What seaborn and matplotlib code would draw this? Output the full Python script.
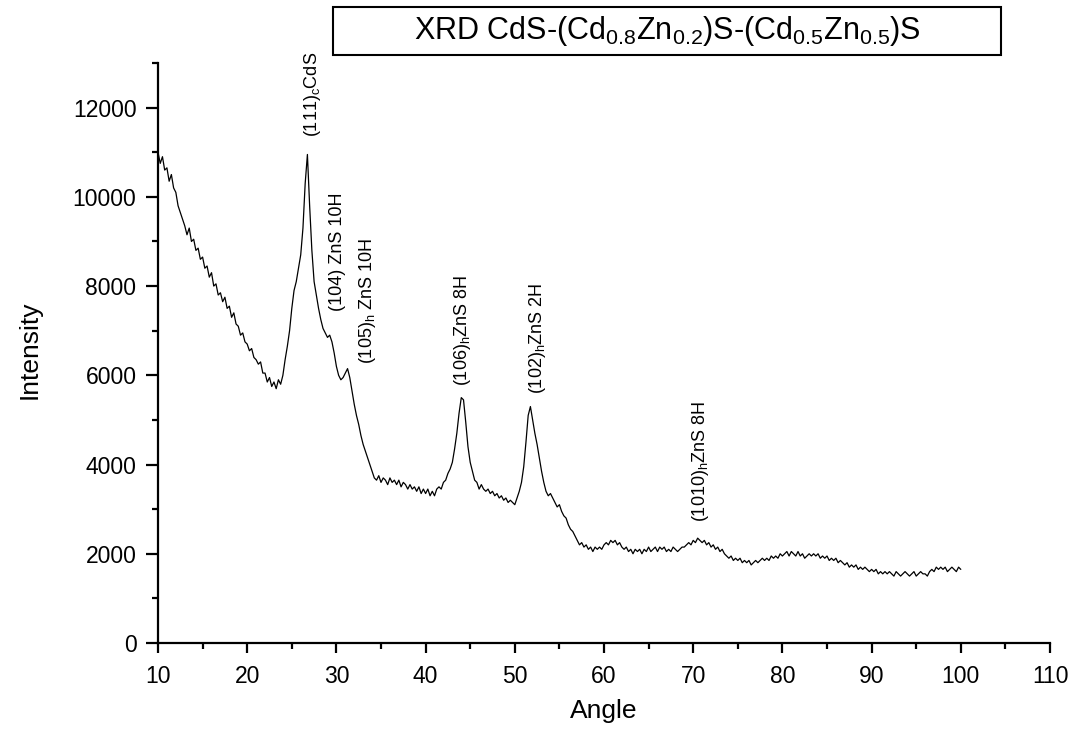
import numpy as np
import pandas as pd
import matplotlib
matplotlib.use("Agg")
import matplotlib.pyplot as plt
from matplotlib.patches import Rectangle
from matplotlib.ticker import MultipleLocator
import seaborn as sns

# XRD scan, 2-theta from 10 to 100 deg sampled every 0.25 deg (one row per degree)
angle_start = 10.0
angle_step = 0.25
intensity = [
    11000, 10750, 10900, 10600,
    10650, 10350, 10500, 10200,
    10100, 9800, 9650, 9500,
    9350, 9150, 9300, 9000,
    9050, 8800, 8850, 8600,
    8650, 8400, 8450, 8200,
    8300, 8000, 8050, 7800,
    7850, 7650, 7750, 7500,
    7550, 7300, 7400, 7150,
    7100, 6900, 6950, 6750,
    6700, 6550, 6600, 6400,
    6350, 6250, 6300, 6050,
    6050, 5850, 5950, 5750,
    5850, 5700, 5900, 5800,
    6000, 6350, 6650, 7000,
    7500, 7900, 8100, 8400,
    8700, 9300, 10300, 10950,
    9800, 8800, 8100, 7800,
    7500, 7250, 7050, 6950,
    6850, 6900, 6750, 6500,
    6200, 6000, 5900, 5950,
    6050, 6150, 5950, 5650,
    5350, 5100, 4900, 4650,
    4450, 4300, 4150, 4000,
    3850, 3700, 3650, 3750,
    3600, 3700, 3650, 3550,
    3700, 3600, 3650, 3550,
    3650, 3500, 3600, 3550,
    3450, 3550, 3450, 3500,
    3400, 3500, 3350, 3450,
    3350, 3450, 3300, 3400,
    3300, 3450, 3500, 3450,
    3600, 3650, 3800, 3900,
    4050, 4350, 4700, 5150,
    5500, 5450, 4950, 4400,
    4050, 3850, 3650, 3600,
    3450, 3550, 3450, 3400,
    3450, 3350, 3400, 3300,
    3350, 3250, 3300, 3200,
    3250, 3150, 3200, 3150,
    3100, 3250, 3400, 3600,
    3950, 4500, 5100, 5300,
    5000, 4700, 4450, 4150,
    3850, 3600, 3400, 3300,
    3350, 3250, 3150, 3050,
    3100, 2950, 2850, 2800,
    2650, 2550, 2500, 2400,
    2300, 2200, 2250, 2150,
    2200, 2100, 2150, 2050,
    2150, 2100, 2150, 2100,
    2200, 2250, 2200, 2300,
    2250, 2300, 2200, 2250,
    2150, 2100, 2150, 2050,
    2100, 2000, 2100, 2050,
    2100, 2000, 2100, 2050,
    2150, 2050, 2100, 2150,
    2050, 2150, 2100, 2150,
    2050, 2100, 2050, 2150,
    2100, 2050, 2100, 2150,
    2150, 2200, 2250, 2200,
    2300, 2250, 2350, 2300,
    2250, 2300, 2200, 2250,
    2150, 2200, 2100, 2150,
    2050, 2100, 2000, 1950,
    1900, 1950, 1850, 1900,
    1850, 1900, 1800, 1850,
    1800, 1850, 1750, 1800,
    1850, 1800, 1850, 1900,
    1850, 1900, 1850, 1950,
    1900, 1950, 1900, 2000,
    1950, 2000, 2050, 1950,
    2050, 2000, 1950, 2050,
    1950, 2000, 1900, 1950,
    2000, 1950, 2000, 1950,
    2000, 1900, 1950, 1900,
    1950, 1850, 1900, 1850,
    1900, 1800, 1850, 1800,
    1750, 1800, 1700, 1750,
    1700, 1750, 1650, 1700,
    1650, 1700, 1650, 1600,
    1650, 1600, 1650, 1550,
    1600, 1550, 1600, 1550,
    1600, 1550, 1500, 1600,
    1550, 1500, 1550, 1600,
    1550, 1500, 1550, 1600,
    1500, 1550, 1600, 1550,
    1550, 1500, 1600, 1650,
    1600, 1700, 1650, 1700,
    1650, 1700, 1600, 1650,
    1700, 1650, 1600, 1700,
    1650,
]
angle = angle_start + angle_step * np.arange(len(intensity))

# Peak assignments: label, angle position, intensity at the label's base
peak_labels = [r"(111)$_c$CdS", r"(104) ZnS 10H", r"(105)$_h$ ZnS 10H",
               r"(106)$_h$ZnS 8H", r"(102)$_h$ZnS 2H", r"(1010)$_h$ZnS 8H"]
peak_angles = [27.3, 30.1, 33.5, 44.1, 52.5, 70.8]
peak_label_base = [11350, 7440, 6250, 5750, 5570, 2720]

title_text = r"XRD CdS-(Cd$_{0.8}$Zn$_{0.2}$)S-(Cd$_{0.5}$Zn$_{0.5}$)S"

sns.set_style("ticks")
plt.rcParams["font.family"] = ["Liberation Sans", "DejaVu Sans"]
plt.rcParams["mathtext.fontset"] = "custom"
plt.rcParams["mathtext.rm"] = "Liberation Sans"
plt.rcParams["mathtext.it"] = "Liberation Sans"
plt.rcParams["mathtext.default"] = "regular"
plt.rcParams["text.color"] = "black"
plt.rcParams["axes.labelcolor"] = "black"
plt.rcParams["xtick.color"] = "black"
plt.rcParams["ytick.color"] = "black"

fig = plt.figure(figsize=(10.76, 7.30), dpi=100)
ax = fig.add_axes([158 / 1076, 1 - 643 / 730, 892 / 1076, 580 / 730])

df = pd.DataFrame({"Angle": angle, "Intensity": intensity})
sns.lineplot(data=df, x="Angle", y="Intensity", ax=ax, color="black",
             linewidth=0.9, estimator=None, sort=False)

ax.set_xlim(10, 110)
ax.set_ylim(0, 13000)
ax.xaxis.set_major_locator(MultipleLocator(10))
ax.xaxis.set_minor_locator(MultipleLocator(5))
ax.yaxis.set_minor_locator(MultipleLocator(1000))
ax.set_yticks(np.arange(0, 12001, 2000))

sns.despine(ax=ax)
for side in ("left", "bottom"):
    ax.spines[side].set_linewidth(1.6)
    ax.spines[side].set_color("black")
ax.tick_params(axis="both", which="major", direction="out", width=1.6,
               labelsize=16.5, colors="black")
ax.tick_params(axis="x", which="major", length=7, pad=8.5)
ax.tick_params(axis="y", which="major", length=9, pad=6.5)
ax.tick_params(axis="both", which="minor", direction="out", width=1.6, length=4)

ax.set_xlabel("Angle", fontsize=19)
ax.set_ylabel("Intensity", fontsize=19)
ax.xaxis.set_label_coords(0.5, -0.097)
ax.yaxis.set_label_coords(-0.13, 0.505)

for label, a, base in zip(peak_labels, peak_angles, peak_label_base):
    ax.text(a, base, label, rotation=90, ha="center", va="bottom", fontsize=13)

# Framed title across the top
fig.add_artist(Rectangle((333 / 1076, 1 - 55 / 730), 668 / 1076, 48 / 730,
                         transform=fig.transFigure, fill=False,
                         edgecolor="black", linewidth=1.5))
fig.text(667 / 1076, 1 - 31 / 730, title_text, ha="center", va="center",
         fontsize=22)

fig.savefig("out.png", dpi=100)
